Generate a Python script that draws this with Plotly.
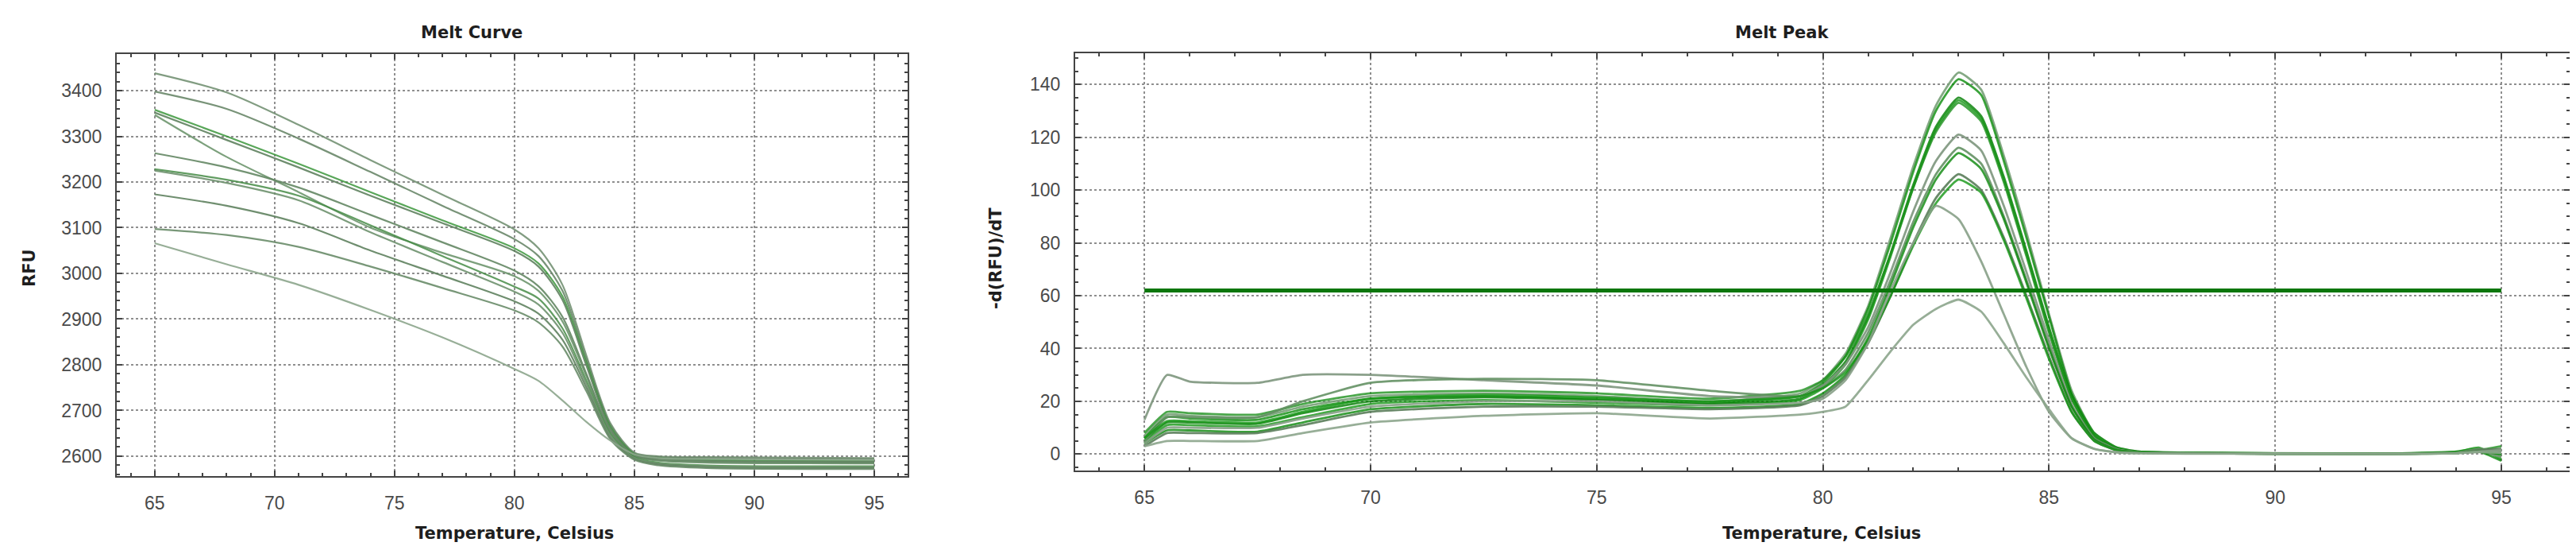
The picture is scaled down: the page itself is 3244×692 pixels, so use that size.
import plotly.graph_objects as go

# ==============================
# DATA - melt curve (RFU)
# ==============================

curve_temp = [65, 68, 71, 74, 77, 80, 81, 82, 83, 84, 85, 86, 88, 95]

curve_rfu = [
    [3438, 3396, 3325, 3248, 3172, 3096, 3055, 2975, 2820, 2672, 2608, 2600, 2598, 2596],
    [3398, 3360, 3295, 3222, 3148, 3075, 3038, 2962, 2812, 2668, 2606, 2598, 2596, 2594],
    [3358, 3300, 3240, 3178, 3116, 3055, 3022, 2950, 2805, 2664, 2604, 2596, 2592, 2590],
    [3352, 3292, 3232, 3170, 3110, 3049, 3015, 2942, 2798, 2660, 2602, 2594, 2590, 2588],
    [3347, 3255, 3178, 3100, 3045, 2994, 2962, 2895, 2775, 2652, 2600, 2590, 2586, 2584],
    [3263, 3232, 3188, 3128, 3068, 3006, 2972, 2905, 2780, 2655, 2601, 2592, 2588, 2586],
    [3228, 3205, 3170, 3105, 3038, 2971, 2945, 2880, 2765, 2648, 2598, 2586, 2580, 2578],
    [3225, 3198, 3160, 3090, 3025, 2960, 2932, 2870, 2758, 2645, 2596, 2584, 2578, 2576],
    [3173, 3148, 3110, 3050, 2995, 2939, 2912, 2855, 2750, 2640, 2594, 2582, 2576, 2574],
    [3097, 3084, 3058, 3015, 2968, 2919, 2893, 2840, 2742, 2637, 2592, 2580, 2574, 2572],
    [3066, 3020, 2975, 2920, 2860, 2791, 2765, 2722, 2675, 2634, 2604, 2596, 2594, 2592],
]

curve_colors = [
    "rgba(115,145,115,0.9)", "rgba(105,135,105,0.9)", "rgba(60,150,60,0.85)",
    "rgba(95,130,95,0.9)", "rgba(110,150,110,0.9)", "rgba(100,135,100,0.9)",
    "rgba(70,140,70,0.85)", "rgba(110,145,110,0.9)", "rgba(95,130,95,0.9)",
    "rgba(105,140,105,0.9)", "rgba(140,165,140,0.9)",
]

# ==============================
# DATA - melt peak (-d(RFU)/dT)
# ==============================

peak_temp = [65, 65.5, 66, 67.5, 68.5, 70, 72.5, 75, 77.5, 79.5,
             80, 80.5, 81, 81.5, 82, 82.5, 83, 83.5, 84, 84.5,
             85, 85.5, 86, 86.5, 87, 88, 90, 92.5, 94, 94.5, 95]

peak_vals = [
    [7, 15, 14.5, 14, 18, 22, 23, 22, 20, 23,
     28, 38, 56, 82, 109, 132, 144.5, 138, 113, 84,
     53, 24, 8, 2.5, 1, 0.6, 0.4, 0.3, 0.8, 1.5, 0.5],
    [6, 14, 13.5, 13, 17, 21, 22, 21, 19.5, 22,
     27, 37, 55, 80, 107, 130, 142, 136, 111, 82,
     52, 23, 8, 2.5, 1, 0.6, 0.3, 0.2, 1, 2, -1],
    [5, 12, 12, 11.5, 15.5, 20, 21.5, 20.5, 19, 21,
     26, 35, 52, 76, 102, 124, 135, 128, 105, 77,
     48, 22, 7, 2, 0.8, 0.5, 0.3, 0.2, 0.5, 1, 0],
    [4, 11, 11, 10.5, 14, 19, 20.5, 19.5, 18.5, 20.5,
     25, 34, 51, 75, 101, 123, 134, 127, 104, 76,
     47, 21, 7, 2, 0.8, 0.5, 0.2, 0.1, 0.8, 2.5, -2],
    [8, 16, 15.5, 15, 19, 23, 24, 23, 21, 24,
     28, 37, 53, 76, 101, 122, 133, 126, 103, 75,
     46, 21, 6.5, 2, 0.7, 0.4, 0.2, 0.1, 0.6, 1.5, 3],
    [13, 30, 27.5, 27, 30, 30, 28, 26, 22, 22,
     26, 34, 48, 69, 92, 111, 121, 115, 94, 69,
     43, 19, 6, 1.8, 0.7, 0.4, 0.3, 0.2, 0.5, 1, -1],
    [5, 14, 14, 14, 20, 27, 28.5, 28, 24, 22,
     25, 32, 46, 66, 88, 106, 116, 110, 90, 66,
     41, 18, 6, 1.8, 0.7, 0.4, 0.2, 0.2, 0.6, 2, 1],
    [4, 9, 9, 8.5, 12, 17, 19, 18.5, 17.5, 19,
     23, 30, 44, 64, 86, 104, 114, 108, 89, 65,
     40, 18, 5.5, 1.5, 0.6, 0.3, 0.2, 0.1, 0.4, 1, -2.5],
    [3, 8, 8, 8, 11, 16, 18, 18, 17, 18.5,
     22, 29, 42, 60, 80, 97, 106, 100, 82, 60,
     37, 16, 5, 1.5, 0.6, 0.3, 0.2, 0.1, 0.5, 1.5, 2],
    [6, 12.5, 12.5, 12, 16, 21, 22.5, 21.5, 20, 22,
     25, 31, 43, 60, 79, 95, 104, 99, 81, 59,
     36, 16, 5, 1.5, 0.6, 0.3, 0.2, 0.1, 0.5, 1, 0],
    [4, 10, 10, 10, 13.5, 18, 20, 20, 18.5, 19.5,
     21, 28, 42, 62, 80, 94, 89, 73, 53, 33,
     16, 6, 2, 0.8, 0.4, 0.3, 0.2, 0.1, 0.4, 1, 1.5],
    [3, 5, 5, 5, 8, 12, 14.5, 15.5, 13.5, 15,
     16, 18, 28, 39, 49, 55, 58.5, 54, 42, 29,
     17, 6, 2, 0.6, 0.3, 0.2, 0.1, 0.1, 0.3, 0.8, 0.5],
]

peak_colors = [
    "rgba(120,160,120,0.9)", "rgba(10,140,10,0.8)", "rgba(0,125,0,0.8)",
    "rgba(20,150,20,0.8)", "rgba(30,145,30,0.8)", "rgba(125,150,125,0.9)",
    "rgba(100,145,100,0.9)", "rgba(10,135,10,0.8)", "rgba(90,125,90,0.9)",
    "rgba(20,150,20,0.8)", "rgba(135,160,135,0.9)", "rgba(140,165,140,0.9)",
]

threshold_temp = [65, 95]
threshold_val = [62, 62]

x_ticks = [65, 70, 75, 80, 85, 90, 95]

# ==============================
# BUILD GRAPH
# ==============================

fig = go.Figure()

for vals, col in zip(curve_rfu, curve_colors):
    fig.add_trace(go.Scatter(
        x=curve_temp, y=vals, mode="lines",
        line=dict(color=col, width=2.2, shape="spline", smoothing=0.8),
        xaxis="x", yaxis="y", showlegend=False, hoverinfo="skip"
    ))

for vals, col in zip(peak_vals, peak_colors):
    fig.add_trace(go.Scatter(
        x=peak_temp, y=vals, mode="lines",
        line=dict(color=col, width=2.8, shape="spline", smoothing=0.5),
        xaxis="x2", yaxis="y2", showlegend=False, hoverinfo="skip"
    ))

fig.add_trace(go.Scatter(
    x=threshold_temp, y=threshold_val, mode="lines",
    line=dict(color="#0b760b", width=5),
    xaxis="x2", yaxis="y2", showlegend=False, hoverinfo="skip"
))

# ==============================
# STYLE
# ==============================

W, H = 3244, 692
tick_font = dict(family="Liberation Sans, Arial, sans-serif", size=23, color="#4a4a4a")
title_font = dict(family="DejaVu Sans, sans-serif", size=21, color="#1e1e1e")

axis_common = dict(
    showline=True, linecolor="#444444", linewidth=2, mirror="allticks",
    ticks="inside", ticklen=7, tickwidth=2, tickcolor="#444444",
    showgrid=True, gridcolor="#8f8f8f", griddash="dot", gridwidth=1.5,
    zeroline=False, tickfont=tick_font, ticklabelstandoff=12,
)

fig.update_layout(
    width=W, height=H,
    paper_bgcolor="white", plot_bgcolor="white",
    margin=dict(l=0, r=0, t=0, b=0),
    xaxis=dict(axis_common, domain=[139 / W, 1135 / W], range=[63.42, 96.39],
               tickvals=x_ticks,
               minor=dict(dtick=1, tick0=65, ticks="inside", ticklen=4,
                          tickcolor="#444444", showgrid=False),
               anchor="y"),
    yaxis=dict(axis_common, domain=[1 - 591 / H, 1 - 60 / H], range=[2556.5, 3480],
               dtick=100, tick0=2600,
               minor=dict(dtick=20, ticks="inside", ticklen=4,
                          tickcolor="#444444", showgrid=False),
               anchor="x"),
    xaxis2=dict(axis_common, domain=[1346 / W, 3228 / W], range=[63.47, 96.51],
                tickvals=x_ticks,
                minor=dict(dtick=1, tick0=65, ticks="inside", ticklen=4,
                           tickcolor="#444444", showgrid=False),
                anchor="y2"),
    yaxis2=dict(axis_common, domain=[1 - 584 / H, 1 - 59 / H], range=[-6.2, 151.8],
                dtick=20, tick0=0,
                minor=dict(dtick=5, ticks="inside", ticklen=4,
                           tickcolor="#444444", showgrid=False),
                anchor="x2"),
)

annotations = [
    ("Melt Curve", 586, 33, 0),
    ("Melt Peak", 2236, 33, 0),
    ("Temperature, Celsius", 640, 663, 0),
    ("Temperature, Celsius", 2286, 663, 0),
    ("RFU", 29, 329, -90),
    ("-d(RFU)/dT", 1246, 317, -90),
]
for text, px, py, rot in annotations:
    fig.add_annotation(
        text="<b>%s</b>" % text, x=px / W, y=1 - py / H,
        xref="paper", yref="paper", showarrow=False,
        xanchor="center", yanchor="middle", textangle=rot, font=title_font
    )

fig.write_html("out.html")
